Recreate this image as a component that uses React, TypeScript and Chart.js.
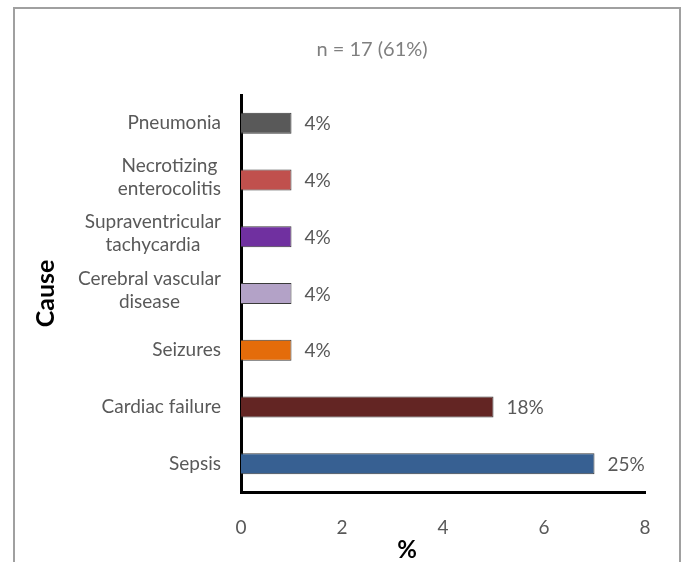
import React, { useEffect, useRef } from "react";
import { Chart, registerables } from "chart.js";

Chart.register(...registerables);

const categories: string[][] = [
  ["Pneumonia"],
  ["Necrotizing", "enterocolitis"],
  ["Supraventricular", "tachycardia"],
  ["Cerebral vascular", "disease"],
  ["Seizures"],
  ["Cardiac failure"],
  ["Sepsis"],
];
const values = [1, 1, 1, 1, 1, 5, 7];
const valueLabels = ["4%", "4%", "4%", "4%", "4%", "18%", "25%"];
const barColors = ["#595959", "#c0504d", "#7030a0", "#b3a2c7", "#e46c0a", "#632523", "#376092"];
const xMin = 0;
const xMax = 8;
const xStep = 2;
const chartTitle = "n = 17 (61%)";
const yTitle = "Cause";
const xTitle = "%";

const FONT = "Lato, 'Open Sans', sans-serif";

const textPlugin = {
  id: "customText",
  afterDatasetsDraw(chart: any) {
    const ctx = chart.ctx;
    const meta = chart.getDatasetMeta(0);
    ctx.save();
    ctx.fillStyle = "#595959";
    ctx.textBaseline = "middle";
    ctx.font = `19px ${FONT}`;
    ctx.textAlign = "left";
    meta.data.forEach((bar: any, i: number) => {
      ctx.fillText(valueLabels[i], bar.x + 13, bar.y + 1);
    });
    const yScale = chart.scales.y;
    const right = yScale.right - 20;
    const lh = 23;
    ctx.textAlign = "center";
    categories.forEach((lines, i) => {
      const yc = yScale.getPixelForValue(i);
      const w = Math.max(...lines.map((l) => ctx.measureText(l).width));
      const cx = right - w / 2;
      const off = lines.length > 1 ? -3 : 0;
      lines.forEach((l, j) => {
        ctx.fillText(l, cx, yc + off + (j - (lines.length - 1) / 2) * lh);
      });
    });
    // chart title
    ctx.fillStyle = "#7f7f7f";
    ctx.font = `20px ${FONT}`;
    ctx.fillText(chartTitle, 372, 50);
    // x title
    ctx.fillStyle = "#000000";
    ctx.font = `bold 24px ${FONT}`;
    ctx.fillText(xTitle, 407, 550);
    ctx.restore();
  },
};

export default function App() {
  const ref = useRef<HTMLCanvasElement>(null);
  useEffect(() => {
    if (!ref.current) return;
    const chart = new Chart(ref.current, {
      type: "bar",
      data: {
        labels: categories.map((c) => c.join(" ")),
        datasets: [
          {
            data: values,
            backgroundColor: barColors,
            borderColor: "#3a3a3a",
            borderWidth: 1,
            barPercentage: 0.37,
            categoryPercentage: 1,
          },
        ],
      },
      options: {
        indexAxis: "y",
        animation: false,
        responsive: false,
        maintainAspectRatio: false,
        layout: { padding: { left: 20, right: 40, top: 95, bottom: 0 } },
        plugins: {
          legend: { display: false },
          tooltip: { enabled: false },
          title: { display: false },
        },
        scales: {
          x: {
            min: xMin,
            max: xMax,
            grid: { display: false, drawTicks: false },
            border: { display: true, color: "#000000", width: 3 },
            ticks: {
              stepSize: xStep,
              color: "#595959",
              font: { family: FONT, size: 19 },
              padding: 24,
            },
            afterFit: (s: any) => {
              s.height = 70;
            },
          },
          y: {
            grid: { display: false, drawTicks: false },
            border: { display: true, color: "#000000", width: 3 },
            ticks: { display: false },
            title: {
              display: true,
              text: yTitle,
              color: "#000000",
              font: { family: FONT, size: 25, weight: "bold" },
              padding: { top: 11, bottom: 0 },
            },
            afterFit: (s: any) => {
              s.width = 221;
            },
          },
        },
      },
      plugins: [textPlugin],
    } as any);
    return () => chart.destroy();
  }, []);
  return (
    <div>
      <div
        style={{
          position: "absolute",
          left: 13,
          top: 7,
          width: 668,
          height: 600,
          border: "2px solid #a0a0a0",
          boxSizing: "border-box",
        }}
      />
      <canvas
        ref={ref}
        width={685}
        height={562}
        style={{ position: "absolute", left: 0, top: 0, width: 685, height: 562 }}
      />
    </div>
  );
}
